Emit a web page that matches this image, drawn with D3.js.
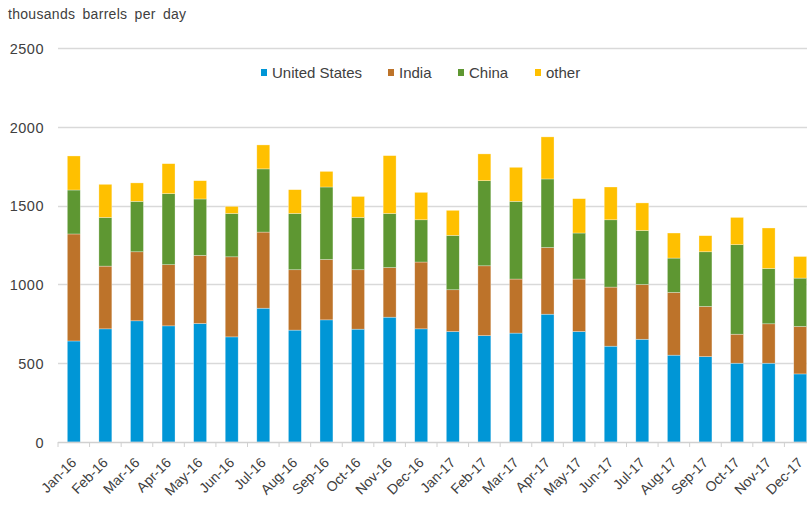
<!DOCTYPE html>
<html>
<head>
<meta charset="utf-8">
<script src="https://cdn.jsdelivr.net/npm/d3@7"></script>
<style>
  body { margin: 0; background: #fff; }
  text { font-family: "Liberation Sans", Arial, sans-serif; }
</style>
</head>
<body>
<svg></svg>
<script>
var months = ["Jan-16","Feb-16","Mar-16","Apr-16","May-16","Jun-16","Jul-16","Aug-16","Sep-16","Oct-16","Nov-16","Dec-16",
              "Jan-17","Feb-17","Mar-17","Apr-17","May-17","Jun-17","Jul-17","Aug-17","Sep-17","Oct-17","Nov-17","Dec-17"];
var unitedStates = [641,718,769,737,752,667,849,710,775,716,792,718,701,675,691,811,701,608,652,551,542,500,500,432];
var india        = [679,398,438,388,432,508,483,383,383,377,315,424,265,443,343,423,333,375,347,398,318,184,250,301];
var china        = [279,309,320,451,358,275,401,357,460,332,343,268,345,540,493,435,292,427,343,218,347,568,351,307];
var other        = [216,210,117,190,116, 45,152,151, 99,133,367,174,159,170,216,267,218,208,175,159,102,173,257,137];
var seriesNames  = ["United States","India","China","other"];
var yTicks       = [0,500,1000,1500,2000,2500];

var svg = d3.select("svg")
            .attr("width", 807)
            .attr("height", 505);

var margins = { left: 58, top: 48, bottom: 63 };
var plotRight = 816;

var colors = d3.scaleOrdinal()
               .domain(seriesNames)
               .range(["#0096d6","#bd732a","#5e9732","#ffc000"]);

var rows = months.map(function(m, i) {
  return { month: m, "United States": unitedStates[i], "India": india[i], "China": china[i], "other": other[i] };
});

var xScale = d3.scaleBand()
               .domain(months)
               .range([margins.left, plotRight])
               .paddingInner(0.59)
               .paddingOuter(0.295);

var yScale = d3.scaleLinear()
               .domain([0,2500])
               .range([442, margins.top]);

// grid lines
svg.append("g")
   .selectAll("line")
   .data(yTicks.slice(1))
   .enter()
   .append("line")
   .attr("x1", margins.left)
   .attr("x2", 807)
   .attr("y1", function(d) { return Math.round(yScale(d)) + 0.5; })
   .attr("y2", function(d) { return Math.round(yScale(d)) + 0.5; })
   .attr("stroke", "#d9d9d9")
   .attr("stroke-width", 1.5);

// y labels
var yAxis = svg.append("g")
   .attr("transform", "translate(" + (margins.left - 14) + ",0)")
   .call(d3.axisLeft(yScale).tickValues(yTicks).tickFormat(d3.format("d")).tickSize(0).tickPadding(0));
yAxis.select(".domain").remove();
yAxis.selectAll("text")
     .attr("font-size", 14.5)
     .attr("letter-spacing", 0.5)
     .attr("fill", "#404040")
     .attr("font-family", "Liberation Sans, Arial, sans-serif")
     .attr("dy", "0.36em");

// stacked bars
var stack = d3.stack().keys(seriesNames)(rows);

svg.append("g")
   .selectAll("g")
   .data(stack)
   .enter()
   .append("g")
   .attr("fill", function(d) { return colors(d.key); })
   .selectAll("rect")
   .data(function(d) { return d; })
   .enter()
   .append("rect")
   .attr("x", function(d) { return xScale(d.data.month); })
   .attr("y", function(d) { return yScale(d[1]); })
   .attr("width", xScale.bandwidth())
   .attr("height", function(d) { return yScale(d[0]) - yScale(d[1]); })
   .attr("stroke", "#ffffff")
   .attr("stroke-opacity", 0.5)
   .attr("stroke-width", 0.6);

// x axis
var boundaries = months.map(function(m) { return xScale(m) - xScale.step() * xScale.paddingInner() / 2; });
var xAxis = svg.append("g");
xAxis.append("line")
     .attr("x1", margins.left)
     .attr("x2", 807)
     .attr("y1", 442.5)
     .attr("y2", 442.5)
     .attr("stroke", "#d0d0d0")
     .attr("stroke-width", 1.5);
xAxis.selectAll(".tick")
     .data(boundaries)
     .enter()
     .append("line")
     .attr("x1", function(d) { return d; })
     .attr("x2", function(d) { return d; })
     .attr("y1", 442)
     .attr("y2", 447)
     .attr("stroke", "#d0d0d0")
     .attr("stroke-width", 1);

xAxis.selectAll(".lbl")
     .data(months)
     .enter()
     .append("text")
     .attr("transform", function(d) {
       return "translate(" + (xScale(d) + xScale.bandwidth() / 2) + ",460) rotate(-45)";
     })
     .attr("text-anchor", "end")
     .attr("dy", "0.35em")
     .attr("font-size", 14)
     .attr("fill", "#404040")
     .text(function(d) { return d; });

// unit label
svg.append("text")
   .attr("x", 8)
   .attr("y", 19)
   .attr("font-size", 14)
   .attr("letter-spacing", 0.3)
   .attr("word-spacing", 3)
   .attr("fill", "#404040")
   .text("thousands barrels per day");

// legend
var legendX = [261, 388, 458, 535];
var legend = svg.append("g")
   .selectAll("g")
   .data(seriesNames)
   .enter()
   .append("g")
   .attr("transform", function(d, i) { return "translate(" + legendX[i] + ",73)"; });
legend.append("rect")
      .attr("x", 0)
      .attr("y", -4)
      .attr("width", 6)
      .attr("height", 7)
      .attr("fill", function(d) { return colors(d); });
legend.append("text")
      .attr("x", 11)
      .attr("dy", "0.36em")
      .attr("font-size", 15)
      .attr("fill", "#404040")
      .text(function(d) { return d; });
</script>
</body>
</html>
